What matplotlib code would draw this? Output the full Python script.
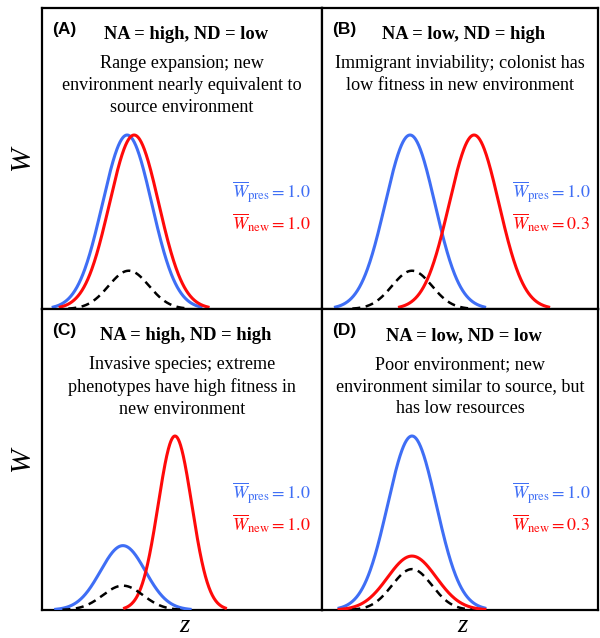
import numpy as np
import matplotlib
matplotlib.use('Agg')
import matplotlib.pyplot as plt

plt.rcParams['mathtext.fontset'] = 'stix'

##### DATA #####
labels = ['(A)', '(B)', '(C)', '(D)']
titles = ['NA = high, ND = low', 'NA = low, ND = high',
          'NA = high, ND = high', 'NA = low, ND = low']
descriptions = [
    'Range expansion; new\nenvironment nearly equivalent to\nsource environment',
    'Immigrant inviability; colonist has\nlow fitness in new environment',
    'Invasive species; extreme\nphenotypes have high fitness in\nnew environment',
    'Poor environment; new\nenvironment similar to source, but\nhas low resources',
]
w_pres = ['1.0', '1.0', '1.0', '1.0']
w_new = ['1.0', '0.3', '1.0', '0.3']

# curve parameters (centre, spread, peak height)
blue_mu = [3.04, 3.19, 2.89, 3.26]
blue_sd = [0.88, 0.90, 0.80, 0.88]
blue_h = [1.0, 1.0, 0.37, 1.0]

red_mu = [3.29, 5.51, 4.75, 3.26]
red_sd = [0.88, 0.90, 0.60, 0.88]
red_h = [1.0, 1.0, 1.0, 0.31]

dash_mu = [3.10, 3.26, 2.89, 3.26]
dash_sd = [0.72, 0.72, 0.72, 0.72]
dash_h = [0.22, 0.22, 0.14, 0.235]

BLUE = '#3f6ef5'
RED = '#ff0a0a'
SERIF = 'Liberation Serif'


def bump(mu, sd, h, n=3.0):
    x = np.linspace(mu - n*sd, mu + n*sd, 300)
    return x, h*np.exp(-0.5*((x - mu)/sd)**2)


fig = plt.figure(figsize=(6.0, 6.38), dpi=100)

W, H = 600, 638
boxes = [(42, 8, 322, 309), (322, 8, 598, 309),
         (42, 309, 322, 610), (322, 309, 598, 610)]

for i, (x0, y0, x1, y1) in enumerate(boxes):
    ax = fig.add_axes([x0/W, 1 - y1/H, (x1 - x0)/W, (y1 - y0)/H])
    ax.set_xlim(0, 10)
    ax.set_ylim(0, 1.73)
    ax.set_xticks([])
    ax.set_yticks([])
    for s in ax.spines.values():
        s.set_linewidth(1.6)

    x, y = bump(blue_mu[i], blue_sd[i], blue_h[i])
    ax.plot(x, y, color=BLUE, lw=2.2, zorder=3)
    x, y = bump(red_mu[i], red_sd[i], red_h[i])
    ax.plot(x, y, color=RED, lw=2.2, zorder=4)
    x, y = bump(dash_mu[i], dash_sd[i], dash_h[i])
    ax.plot(x, y, color='black', lw=1.8, linestyle=(0, (3.2, 2.2)), zorder=5)

    ax.text(0.036, 0.927, labels[i], transform=ax.transAxes, fontsize=12.5,
            fontweight='bold', family='Liberation Sans', ha='left', va='center')
    ax.text(0.513, 0.912, titles[i], transform=ax.transAxes, fontsize=13.3,
            fontweight='bold', family=SERIF, ha='center', va='center')
    ax.text(0.5, 0.843, descriptions[i], transform=ax.transAxes, fontsize=13.1,
            family=SERIF, ha='center', va='top', linespacing=1.36)

    lx = 0.68 if i % 2 == 0 else 0.69
    ax.text(lx, 0.386, r'$\overline{W}_{\rm pres} = ' + w_pres[i] + '$',
            transform=ax.transAxes, fontsize=13, color=BLUE,
            ha='left', va='center')
    ax.text(lx, 0.287, r'$\overline{W}_{\rm new} = ' + w_new[i] + '$',
            transform=ax.transAxes, fontsize=13, color=RED,
            ha='left', va='center')

    if i % 2 == 0:
        ax.text(-0.072, 0.5, 'W', transform=ax.transAxes, fontsize=21,
                family=SERIF, style='italic', rotation=90,
                ha='center', va='center')
    if i >= 2:
        ax.text(0.51, -0.052, 'z', transform=ax.transAxes, fontsize=19,
                family=SERIF, style='italic', ha='center', va='center')

plt.savefig('out.png', dpi=100)
